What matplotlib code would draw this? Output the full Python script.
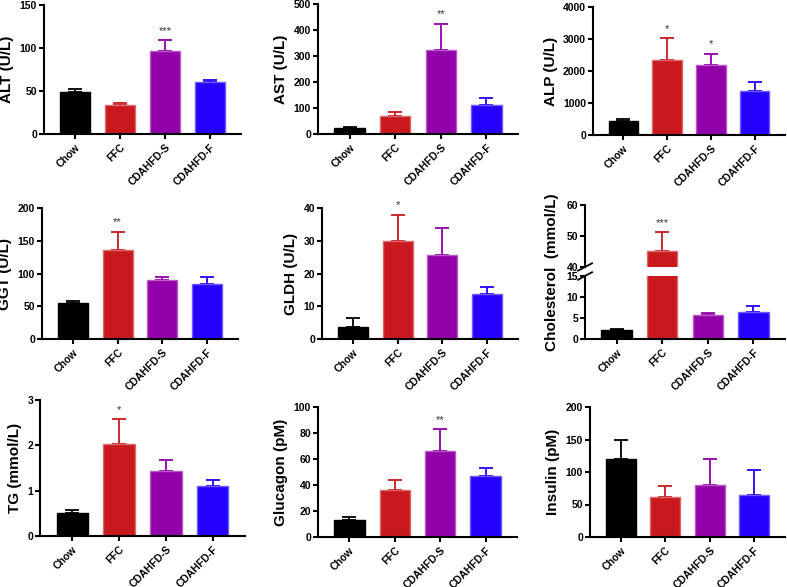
import matplotlib
matplotlib.use("Agg")
import matplotlib.pyplot as plt
import matplotlib.colors as mcolors
import numpy as np

plt.rcParams['font.family'] = ['Liberation Sans', 'DejaVu Sans']
plt.rcParams['font.weight'] = 'bold'

groups = ["Chow", "FFC", "CDAHFD-S", "CDAHFD-F"]
colors = ["#000000", "#C8191E", "#9100A8", "#2300FF"]

alt_mean = [49, 34, 96, 60]
alt_sem = [3, 2.6, 13, 3]
ast_mean = [23, 70, 325, 113]
ast_sem = [4, 14, 100, 27]
alp_mean = [450, 2335, 2178, 1372]
alp_sem = [63, 690, 366, 282]
ggt_mean = [54.6, 135.7, 89.8, 83.7]
ggt_sem = [3.1, 28.3, 5.2, 10.7]
gldh_mean = [3.8, 30, 25.6, 13.7]
gldh_sem = [2.7, 8, 8.4, 2.3]
chol_mean = [2.06, 45.3, 5.8, 6.4]
chol_sem = [0.24, 6.05, 0.5, 1.46]
tg_mean = [0.51, 2.04, 1.43, 1.10]
tg_sem = [0.06, 0.53, 0.24, 0.14]
glucagon_mean = [12.8, 36, 66.3, 47]
glucagon_sem = [2.8, 7.9, 16.9, 6.3]
insulin_mean = [120.6, 60.8, 79.4, 64]
insulin_sem = [29.4, 18.1, 40.6, 38.6]

W, H = 787, 587
fig = plt.figure(figsize=(W / 100, H / 100), dpi=100, facecolor='white')


def px_axes(l, r, t, b):
    return fig.add_axes([l / W, 1 - b / H, (r - l) / W, (b - t) / H])


def lighter(c, f=0.35):
    rgb = np.array(mcolors.to_rgb(c))
    if rgb.sum() == 0:
        return c
    return tuple(rgb + (1 - rgb) * f)


def style(ax, ticks, bottom=True, top=False):
    ax.spines['right'].set_visible(False)
    ax.spines['top'].set_visible(top)
    ax.spines['bottom'].set_visible(bottom)
    for s in ['left', 'bottom', 'top']:
        ax.spines[s].set_linewidth(1.5)
    ax.set_yticks(ticks)
    ax.tick_params(axis='y', labelsize=7.5, width=1.5, length=3.5, pad=1.5)
    ax.tick_params(axis='x', width=1.5, length=3.5, pad=2.5)
    ax.set_xlim(-0.69, 3.69)


def draw_bars(ax, mean, sem, stars=None):
    x = np.arange(len(groups))
    for i in range(len(groups)):
        ax.bar(x[i], mean[i], width=0.667, color=colors[i],
               edgecolor=lighter(colors[i]), linewidth=1.0, zorder=2)
        ax.errorbar(x[i], mean[i], yerr=[[0], [sem[i]]], fmt='none',
                    ecolor=colors[i], elinewidth=1.3, capsize=5.2,
                    capthick=1.3, zorder=1)
        if stars and stars[i]:
            ax.annotate(stars[i], (x[i], mean[i] + sem[i]), xytext=(0, 3),
                        textcoords='offset points', ha='center', va='bottom',
                        fontsize=8, color='#333333', fontweight='normal')


def xlabels(ax):
    ax.set_xticks(np.arange(len(groups)))
    ax.set_xticklabels(groups, rotation=45, ha='right', rotation_mode='anchor',
                       fontsize=7.5, fontweight='bold')


panels = [
    ((44, 241, 5, 134), alt_mean, alt_sem, (0, 150), [0, 50, 100, 150], "ALT (U/L)", [None, None, "***", None]),
    ((318, 518, 4, 134), ast_mean, ast_sem, (0, 500), [0, 100, 200, 300, 400, 500], "AST (U/L)", [None, None, "**", None]),
    ((593, 785, 7, 135), alp_mean, alp_sem, (0, 4000), [0, 1000, 2000, 3000, 4000], "ALP (U/L)", [None, "*", "*", None]),
    ((42, 238, 208, 339), ggt_mean, ggt_sem, (0, 200), [0, 50, 100, 150, 200], "GGT (U/L)", [None, "**", None, None]),
    ((322, 518, 208, 339), gldh_mean, gldh_sem, (0, 40), [0, 10, 20, 30, 40], "GLDH (U/L)", [None, "*", None, None]),
    ((40, 245, 400, 536), tg_mean, tg_sem, (0, 3), [0, 1, 2, 3], "TG (mmol/L)", [None, "*", None, None]),
    ((318, 517, 407, 537), glucagon_mean, glucagon_sem, (0, 100), [0, 20, 40, 60, 80, 100], "Glucagon (pM)", [None, None, "**", None]),
    ((590, 785, 407, 537), insulin_mean, insulin_sem, (0, 200), [0, 50, 100, 150, 200], "Insulin (pM)", None),
]

for box, mean, sem, ylim, ticks, label, stars in panels:
    ax = px_axes(*box)
    draw_bars(ax, mean, sem, stars)
    ax.set_ylim(*ylim)
    style(ax, ticks)
    xlabels(ax)
    ax.set_ylabel(label, fontsize=11, fontweight='bold', labelpad=4)

# Cholesterol with broken y axis
ax_up = px_axes(585, 785, 205, 267)
ax_lo = px_axes(585, 785, 276, 339)
draw_bars(ax_up, chol_mean, chol_sem, [None, "***", None, None])
draw_bars(ax_lo, chol_mean, chol_sem)
ax_up.set_ylim(40, 60)
ax_lo.set_ylim(0, 15)
style(ax_up, [40, 50, 60], bottom=False)
style(ax_lo, [0, 5, 10, 15])
ax_up.set_xticks([])
xlabels(ax_lo)

# break marks on the left spine
for ax, yy in [(ax_up, 0), (ax_lo, 1)]:
    ax.plot([-0.035, 0.035], [yy - 0.06, yy + 0.06], transform=ax.transAxes,
            color='black', lw=1.3, clip_on=False)

fig.text(552 / W, 1 - 272 / H, "Cholesterol  (mmol/L)", rotation=90,
         ha='center', va='center', fontsize=11, fontweight='bold')

plt.savefig("out.png", dpi=100, facecolor='white')
